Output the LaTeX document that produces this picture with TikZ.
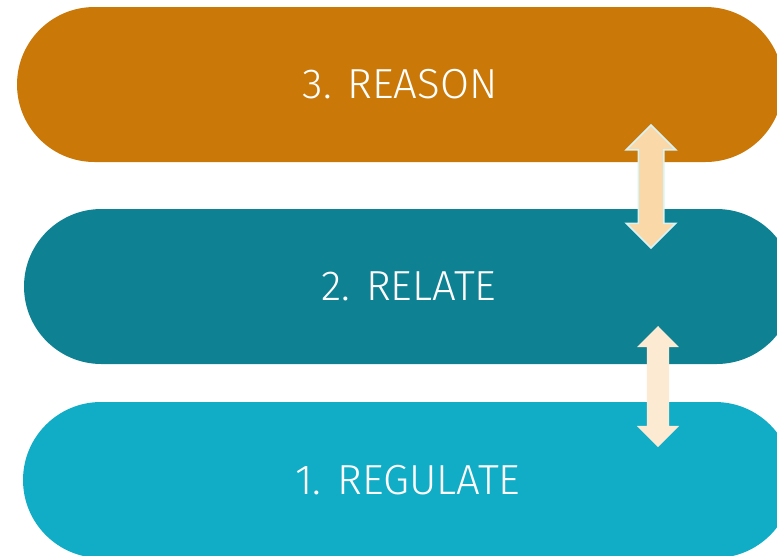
\documentclass[tikz,border=0pt]{standalone}
\usepackage{fontspec}
\setmainfont{Fira Sans}[UprightFont=* Light]
\usetikzlibrary{shapes.misc,shapes.arrows}
\definecolor{reasoncol}{HTML}{CA7909}
\definecolor{relatecol}{HTML}{0E8193}
\definecolor{regulatecol}{HTML}{11ADC7}
\definecolor{arrowfillA}{HTML}{FAD8A8}
\definecolor{arrowlineA}{HTML}{D8F3F3}
\definecolor{arrowfillB}{HTML}{FCEAD2}

\begin{document}
\begin{tikzpicture}[x=1pt, y=-1pt]
      \tikzstyle{pill} = [rounded rectangle, inner sep = 0pt, minimum height = 155pt,
        text = white, font = \fontsize{42}{50}\selectfont]
      \tikzstyle{darrow} = [double arrow, rotate = 90, inner xsep = 0pt,
        double arrow head extend = 12pt, double arrow head indent = 0pt]

      \useasboundingbox (0,0) rectangle (777,555);

      \node[pill, fill=reasoncol, minimum width = 766pt] (reason) at (400, 84.5) {3. REASON};
      \node[pill, fill=relatecol, minimum width = 770pt] (relate) at (409, 286.5) {2. RELATE};
      \node[pill, fill=regulatecol, minimum width = 770pt, minimum height = 156pt] (regulate) at (408, 480) {1. REGULATE};

      \node[darrow, fill=arrowfillA, draw=arrowlineA, line width=1.5pt, inner ysep = 12pt,
        minimum height = 123pt, minimum width = 48pt] (upper) at (651, 186.5) {};
      \node[darrow, fill=arrowfillB, inner ysep = 11pt, double arrow head extend = 10pt,
        minimum height = 121pt, minimum width = 42pt] (lower) at (658, 386.5) {};
\end{tikzpicture}
\end{document}
